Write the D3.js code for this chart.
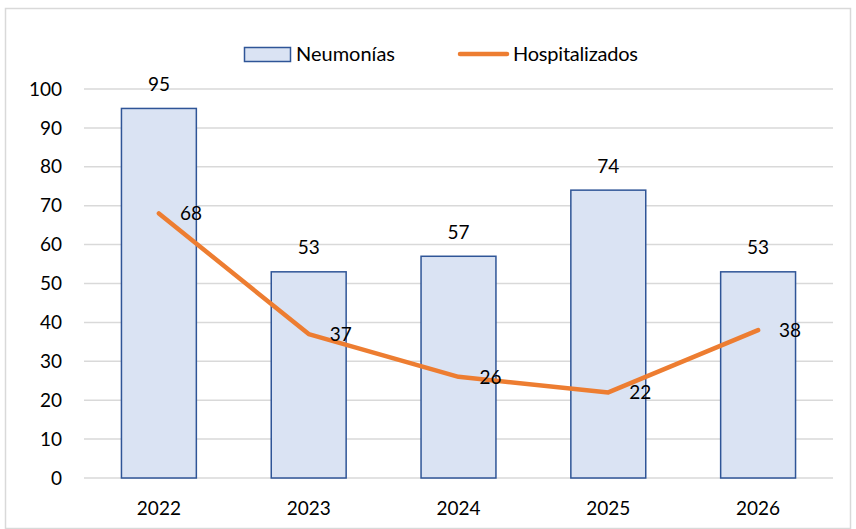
<!DOCTYPE html>
<html>
<head>
<meta charset="utf-8">
<script src="https://cdn.jsdelivr.net/npm/d3@7"></script>
<style>
    body { margin: 0; background: #fff; }
    svg text { font-family: Lato, "Open Sans", sans-serif; fill: #000; }
</style>
</head>
<body>
<svg id="chart" width="856" height="529"></svg>
<script>
// chart values
var years = ['2022', '2023', '2024', '2025', '2026'];
var neumonias = [95, 53, 57, 74, 53];
var hospitalizados = [68, 37, 26, 22, 38];
var yTicks = [0, 10, 20, 30, 40, 50, 60, 70, 80, 90, 100];

var BAR_FILL = '#DAE3F3';
var BAR_STROKE = '#2F5597';
var LINE_COLOR = '#ED7D31';
var GRID = '#D9D9D9';
var FS = 19;

var svg = d3.select('#chart');
var margin = { left: 84, right: 23, top: 89, bottom: 51 };
var W = 856, H = 529;

// outer frame
svg.append('rect')
    .attr('x', 5.5).attr('y', 8.5)
    .attr('width', W - 11).attr('height', H - 9)
    .attr('fill', '#fff').attr('stroke', GRID).attr('stroke-width', 1.5);

var x = d3.scaleBand()
    .domain(years)
    .range([margin.left, W - margin.right])
    .paddingInner(0.5)
    .paddingOuter(0.25);

var xc = function(d) { return x(d) + x.bandwidth() / 2; };

var y = d3.scaleLinear()
    .domain([0, 100])
    .range([H - margin.bottom, margin.top]);

// gridlines
svg.append('g')
    .selectAll('line')
    .data(yTicks)
    .enter().append('line')
    .attr('x1', margin.left).attr('x2', W - margin.right)
    .attr('y1', function(d) { return y(d); })
    .attr('y2', function(d) { return y(d); })
    .attr('stroke', GRID).attr('stroke-width', 1.5);

// y tick labels
svg.append('g')
    .selectAll('text')
    .data(yTicks)
    .enter().append('text')
    .attr('x', 62)
    .attr('y', function(d) { return y(d); })
    .attr('dy', '0.35em')
    .attr('text-anchor', 'end')
    .attr('font-size', FS)
    .text(function(d) { return d; });

// x labels
svg.append('g')
    .selectAll('text')
    .data(years)
    .enter().append('text')
    .attr('x', xc)
    .attr('y', y(0) + 30)
    .attr('dy', '0.35em')
    .attr('text-anchor', 'middle')
    .attr('font-size', FS)
    .text(function(d) { return d; });

// bars
svg.append('g')
    .selectAll('rect')
    .data(neumonias)
    .enter().append('rect')
    .attr('x', function(d, i) { return x(years[i]); })
    .attr('y', function(d) { return y(d); })
    .attr('width', x.bandwidth())
    .attr('height', function(d) { return y(0) - y(d); })
    .attr('fill', BAR_FILL)
    .attr('stroke', BAR_STROKE)
    .attr('stroke-width', 1.5);

// bar labels
svg.append('g')
    .selectAll('text')
    .data(neumonias)
    .enter().append('text')
    .attr('x', function(d, i) { return xc(years[i]); })
    .attr('y', function(d) { return y(d) - 24; })
    .attr('dy', '0.35em')
    .attr('text-anchor', 'middle')
    .attr('font-size', FS)
    .text(function(d) { return d; });

// line
var line = d3.line()
    .x(function(d, i) { return xc(years[i]); })
    .y(function(d) { return y(d); });

svg.append('path')
    .datum(hospitalizados)
    .attr('d', line)
    .attr('fill', 'none')
    .attr('stroke', LINE_COLOR)
    .attr('stroke-width', 4.5)
    .attr('stroke-linecap', 'round')
    .attr('stroke-linejoin', 'round');

// line labels (right of point)
svg.append('g')
    .selectAll('text')
    .data(hospitalizados)
    .enter().append('text')
    .attr('x', function(d, i) { return xc(years[i]) + 21; })
    .attr('y', function(d) { return y(d); })
    .attr('dy', '0.35em')
    .attr('text-anchor', 'start')
    .attr('font-size', FS)
    .text(function(d) { return d; });

// legend
var lg = svg.append('g');
lg.append('rect')
    .attr('x', 244.5).attr('y', 47.5)
    .attr('width', 46).attr('height', 14)
    .attr('fill', BAR_FILL).attr('stroke', BAR_STROKE).attr('stroke-width', 1.5);
lg.append('text')
    .attr('x', 296).attr('y', 54).attr('dy', '0.35em')
    .attr('font-size', 20)
    .text('Neumonías');
lg.append('line')
    .attr('x1', 460).attr('x2', 507)
    .attr('y1', 54).attr('y2', 54)
    .attr('stroke', LINE_COLOR).attr('stroke-width', 4.5)
    .attr('stroke-linecap', 'round');
lg.append('text')
    .attr('x', 513).attr('y', 54).attr('dy', '0.35em')
    .attr('font-size', 20)
    .attr('textLength', 125)
    .text('Hospitalizados');
</script>
</body>
</html>
